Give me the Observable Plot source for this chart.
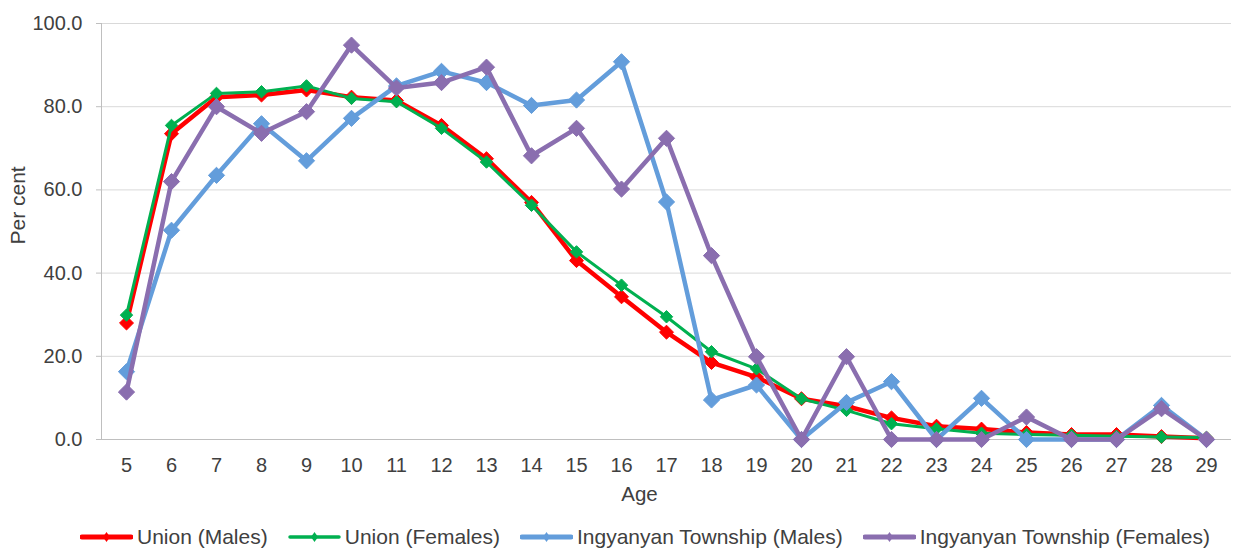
<!DOCTYPE html>
<html>
<head>
<meta charset="utf-8">
<script src="https://cdn.jsdelivr.net/npm/d3@7"></script>
<script src="https://cdn.jsdelivr.net/npm/@observablehq/plot@0.6"></script>
<style>
  body { margin: 0; background: #fff; font-family: "Liberation Sans", Arial, sans-serif; }
  #legend { display: flex; align-items: center; height: 28px; padding-top: 8px; padding-left: 80px; font-size: 21px; color: #404040; white-space: nowrap; }
  .item { display: flex; align-items: center; margin-right: 20px; }
  .item svg { margin-right: 4px; }
</style>
</head>
<body>
<div id="chart"></div>
<div id="legend"></div>
<script>
// ---- Data ----
const ages = [5, 6, 7, 8, 9, 10, 11, 12, 13, 14, 15, 16, 17, 18, 19, 20, 21, 22, 23, 24, 25, 26, 27, 28, 29];
const unionMales   = [28.0, 73.5, 82.3, 82.8, 84.0, 82.3, 81.5, 75.5, 67.5, 57.0, 43.0, 34.3, 25.8, 18.5, 15.0, 9.8, 8.0, 5.2, 3.2, 2.5, 1.7, 1.2, 1.2, 0.7, 0.3];
const unionFemales = [29.9, 75.5, 83.2, 83.6, 85.0, 82.0, 81.2, 74.8, 66.7, 56.3, 45.1, 37.1, 29.5, 21.1, 17.0, 9.8, 7.0, 3.8, 2.6, 1.5, 1.2, 1.0, 0.8, 0.6, 0.5];
const ingMales     = [16.3, 50.3, 63.5, 75.9, 67.0, 77.2, 85.0, 88.5, 85.8, 80.3, 81.6, 90.8, 57.1, 9.5, 13.1, 0.0, 8.9, 13.9, 0.0, 9.9, 0.0, 0.0, 0.0, 8.2, 0.0];
const ingFemales   = [11.4, 62.0, 80.0, 73.6, 78.8, 94.8, 84.5, 85.8, 89.5, 68.2, 74.8, 60.2, 72.4, 44.2, 19.9, 0.0, 19.9, 0.0, 0.0, 0.0, 5.4, 0.0, 0.0, 7.4, 0.0];
const seriesNames = ["Union (Males)", "Union (Females)", "Ingyanyan Township (Males)", "Ingyanyan Township (Females)"];
const seriesValues = [unionMales, unionFemales, ingMales, ingFemales];
const yTicks = [0, 20, 40, 60, 80, 100];
const xLabel = "Age";
const yLabel = "Per cent";

// ---- Styles ----
const seriesColors = ["#FF0000", "#00B050", "#639DDB", "#8A6EAF"];
const seriesWidths = [4.5, 3, 4.5, 4.5];
const seriesR = [6.3, 5.6, 7.3, 7.3];

const rows = seriesValues.map((vals, i) => ages.map((a, j) => ({age: a, value: vals[j], series: seriesNames[i]})));

const marks = [
  Plot.gridY(yTicks, {stroke: "#d9d9d9", strokeOpacity: 1}),
  Plot.frame({anchor: "left", stroke: "#bfbfbf"}),
  Plot.ruleY([0], {stroke: "#bfbfbf"}),
  Plot.axisY({ticks: yTicks, tickFormat: d => d.toFixed(1), tickSize: 5, tickPadding: 14, stroke: "#bfbfbf", fill: "#404040", fontSize: 20, label: null}),
  Plot.axisX({tickSize: 0, tickPadding: 18, fill: "#404040", fontSize: 20, label: null}),
  Plot.text([xLabel], {frameAnchor: "bottom", dx: -27, dy: 61, fill: "#404040", fontSize: 20.5}),
  Plot.text([yLabel], {frameAnchor: "left", dx: -83, dy: 13, rotate: -90, fill: "#404040", fontSize: 21})
];
rows.forEach((r, i) => {
  marks.push(Plot.line(r, {x: "age", y: "value", stroke: seriesColors[i], strokeWidth: seriesWidths[i], strokeLinejoin: "round"}));
  marks.push(Plot.dot(r, {x: "age", y: "value", symbol: "diamond2", r: seriesR[i], fill: seriesColors[i], stroke: seriesColors[i], strokeWidth: 1}));
});

const chart = Plot.plot({
  width: 1237,
  height: 515,
  marginTop: 23,
  marginBottom: 76,
  marginLeft: 101,
  marginRight: 6,
  style: {fontFamily: '"Liberation Sans", Arial, sans-serif', fontSize: "20px", background: "#fff", color: "#404040"},
  x: {type: "point", domain: ages, padding: 0.5},
  y: {domain: [0, 100]},
  marks
});
document.getElementById("chart").appendChild(chart);

// ---- Legend ----
const legend = document.getElementById("legend");
seriesNames.forEach((name, i) => {
  const item = document.createElement("div");
  item.className = "item";
  item.innerHTML = `<svg width="53" height="16"><line x1="2" y1="8" x2="51" y2="8" stroke="${seriesColors[i]}" stroke-width="${seriesWidths[i] + 0.5}" stroke-linecap="round"/><path d="M26.5,3 L30,8 L26.5,13 L23,8 Z" fill="${seriesColors[i]}"/></svg><span>${name}</span>`;
  legend.appendChild(item);
});
</script>
</body>
</html>
